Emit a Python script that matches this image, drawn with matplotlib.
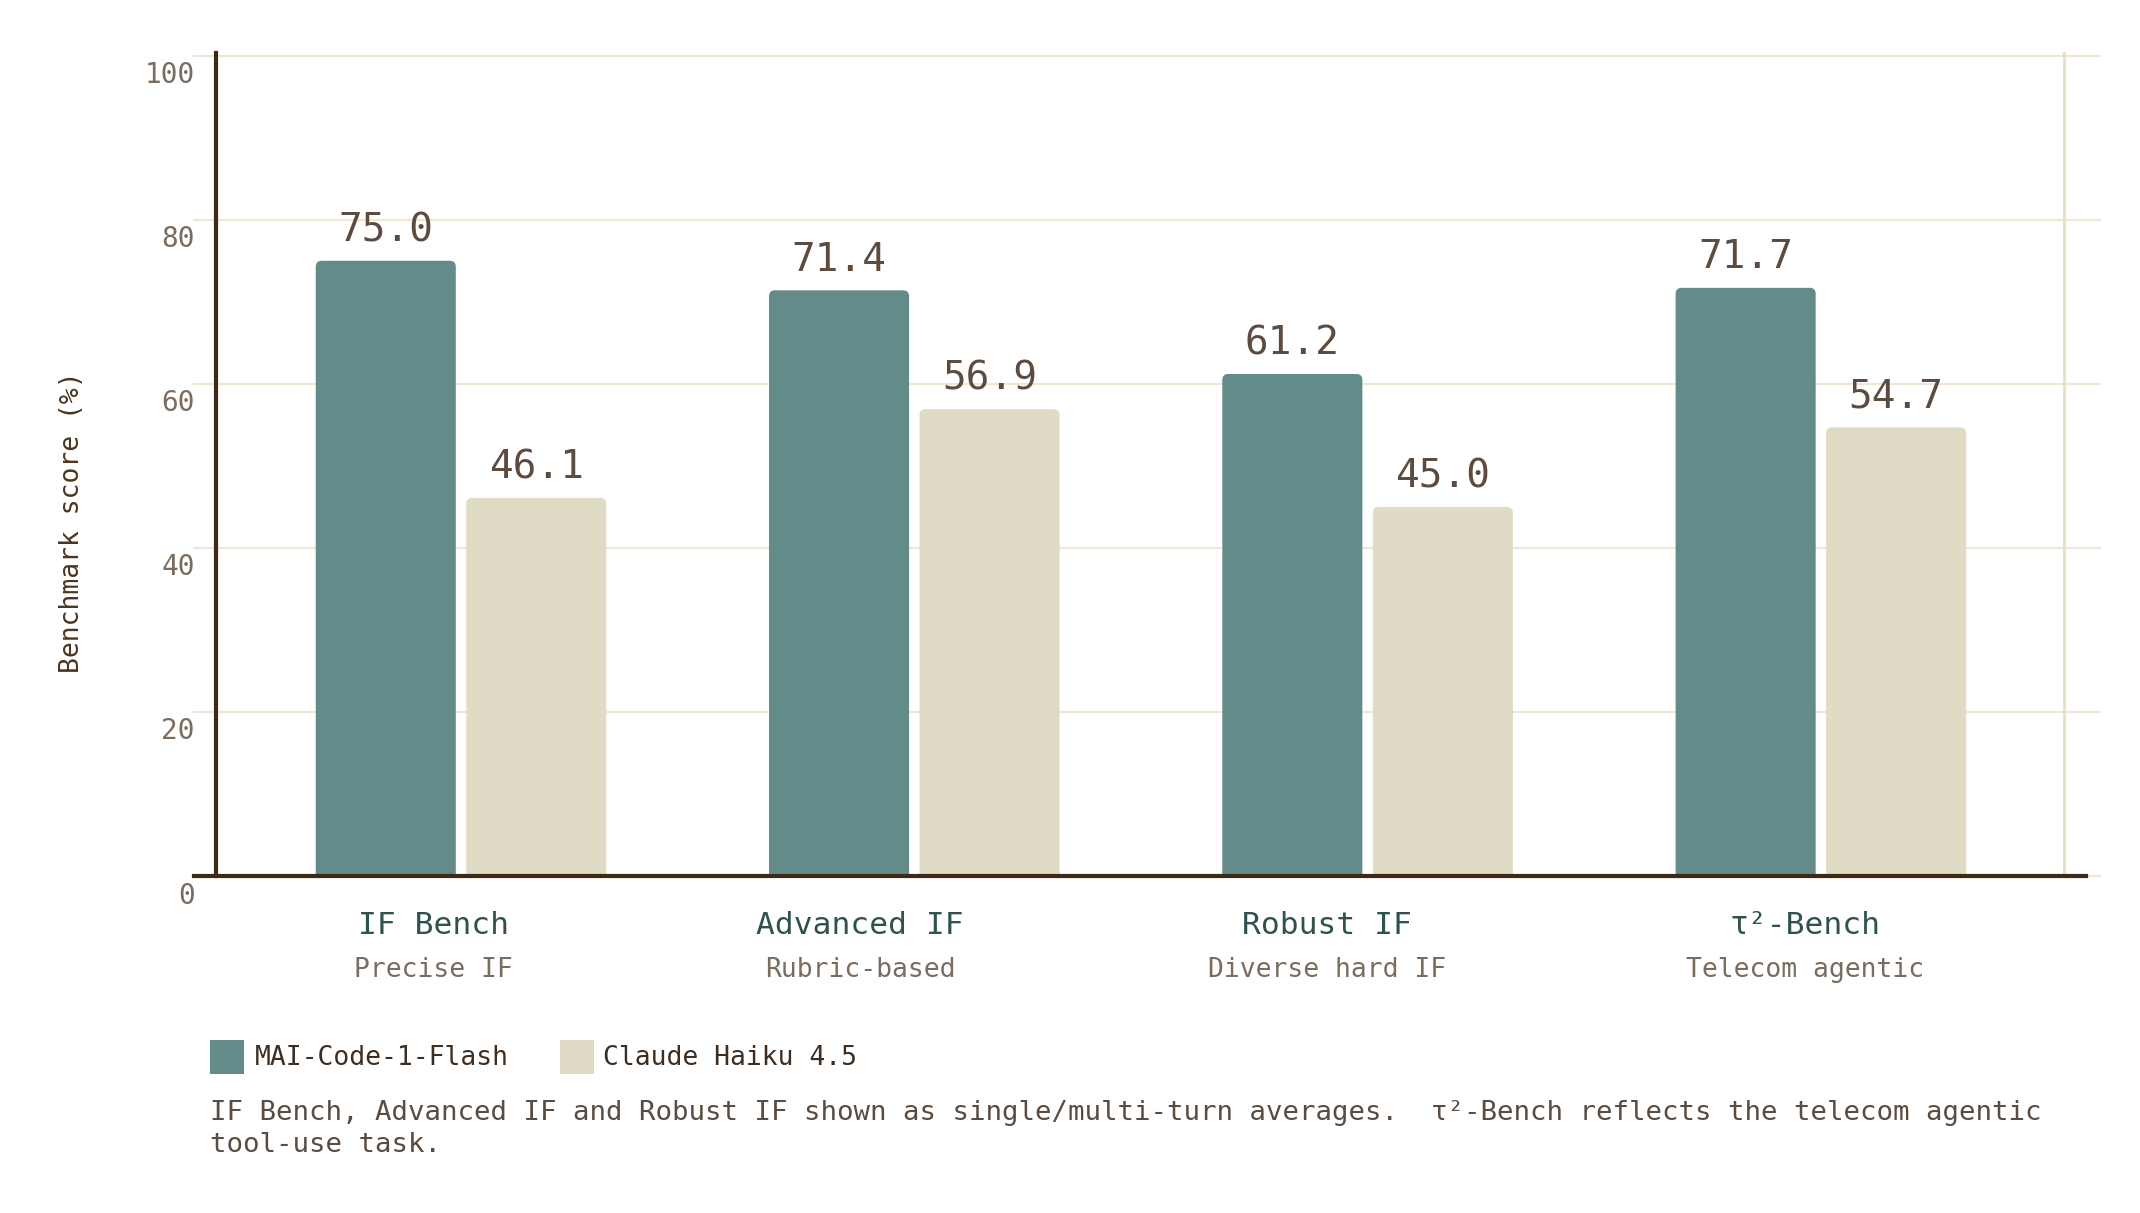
import matplotlib
matplotlib.use('Agg')
import matplotlib.pyplot as plt
from matplotlib.patches import FancyBboxPatch, Rectangle
from matplotlib.transforms import blended_transform_factory
import numpy as np

# data
benchmarks = ['IF Bench', 'Advanced IF', 'Robust IF', 'τ²-Bench']
subtitles = ['Precise IF', 'Rubric-based', 'Diverse hard IF', 'Telecom agentic']
mai_scores = [75.0, 71.4, 61.2, 71.7]
haiku_scores = [46.1, 56.9, 45.0, 54.7]
series_names = ['MAI-Code-1-Flash', 'Claude Haiku 4.5']
yticks = [0, 20, 40, 60, 80, 100]
footnote = ['IF Bench, Advanced IF and Robust IF shown as single/multi-turn averages.  '
            'τ²-Bench reflects the telecom agentic',
            'tool-use task.']

# colours
teal = '#628b89'
beige = '#e0dbc5'
grid_c = '#efe6d6'
spine_c = '#3e2914'
value_c = '#5c4b3e'
tick_c = '#7a6c5e'
cat_c = '#2f524f'
legend_c = '#3e2e22'
note_c = '#5a4c40'

MONO = ['DejaVu Sans Mono']
plt.rcParams['font.family'] = MONO

W, H = 2140, 1213
fig = plt.figure(figsize=(W / 100, H / 100), dpi=100)

# axes box in pixels
x0_px, x1_px = 194, 2100
y0_px, y1_px = 876, 55.7
ax = fig.add_axes([x0_px / W, 1 - y0_px / H, (x1_px - x0_px) / W, (y0_px - y1_px) / H])

step = 453.3  # px per group
g0 = 461.0
def u(px):
    return (px - g0) / step

ax.set_xlim(u(x0_px), u(x1_px))
ax.set_ylim(0, 100)

x = np.arange(len(benchmarks))
width = 0.309
off = 0.166

# grid
for v in yticks:
    ax.axhline(v, color=grid_c, lw=1.5, zorder=0, clip_on=False)
ax.plot([u(2064), u(2064)], [0, 100.35], color='#e8e0cc', lw=2.2, zorder=0, clip_on=False)

px_per_y = (y0_px - y1_px) / 100.0
radius = 6 / step
aspect = (1 / px_per_y) / (1 / step)

def draw_bars(xs, vals, color):
    bars = ax.bar(xs, vals, width, color=color, zorder=2)
    for r in bars:
        bx, by = r.get_xy()
        bw, bh = r.get_width(), r.get_height()
        r.set_visible(False)
        p = FancyBboxPatch((bx, by - 2), bw, bh + 2,
                           boxstyle=f'round,pad=0,rounding_size={radius}',
                           mutation_aspect=aspect, facecolor=color,
                           edgecolor='none', zorder=2)
        ax.add_patch(p)
    return bars

b1 = draw_bars(x - off, mai_scores, teal)
b2 = draw_bars(x + off, haiku_scores, beige)

for xs, vals in [(x - off, mai_scores), (x + off, haiku_scores)]:
    for xi, v in zip(xs, vals):
        ax.annotate(f'{v:.1f}', (xi, v), xytext=(0, 14), textcoords='offset points',
                    ha='center', va='baseline', fontsize=28.4, color=value_c, zorder=3)

# spines
for s in ['top', 'right']:
    ax.spines[s].set_visible(False)
ax.spines['left'].set_position(('data', u(215.5)))
ax.spines['left'].set_bounds(0, 100.35)
ax.spines['left'].set_linewidth(3)
ax.spines['left'].set_color(spine_c)
ax.spines['bottom'].set_bounds(u(x0_px), u(2086))
ax.spines['bottom'].set_linewidth(3)
ax.spines['bottom'].set_color(spine_c)
ax.spines['bottom'].set_zorder(4)
ax.set_xticks([])
ax.set_yticks([])

# y tick labels, hung below their gridlines
for v in yticks:
    ax.annotate(f'{v}', (u(215.5), v), xytext=(-15, -19.8), textcoords='offset points',
                ha='right', va='baseline', fontsize=20, color=tick_c, annotation_clip=False)

# category labels
label_shift = [-0.06, -0.12, -0.09, -0.035]
tr = blended_transform_factory(ax.transData, fig.transFigure)
for i, (name, sub) in enumerate(zip(benchmarks, subtitles)):
    ax.text(i + label_shift[i], 1 - 934 / H, name, transform=tr, ha='center', va='baseline',
            fontsize=22.5, color=cat_c, clip_on=False)
    ax.text(i + label_shift[i], 1 - 977 / H, sub, transform=tr, ha='center', va='baseline',
            fontsize=19, color=tick_c, clip_on=False)

fig.text(72 / W, 1 - 522 / H, 'Benchmark score (%)', rotation=90, ha='center', va='center',
         fontsize=19, color='#4a3520')

# legend
for (lx, tx), name, color in zip([(210, 255), (560, 603)], series_names, [teal, beige]):
    fig.patches.append(Rectangle((lx / W, 1 - 1074 / H), 34 / W, 34 / H,
                                 transform=fig.transFigure, facecolor=color, edgecolor='none'))
    fig.text(tx / W, 1 - 1065 / H, name, ha='left', va='baseline', fontsize=19, color=legend_c)

for line, base in zip(footnote, [1120, 1152]):
    fig.text(210 / W, 1 - base / H, line, ha='left', va='baseline', fontsize=19.7, color=note_c)

fig.savefig('out.png', dpi=100, facecolor='white')
